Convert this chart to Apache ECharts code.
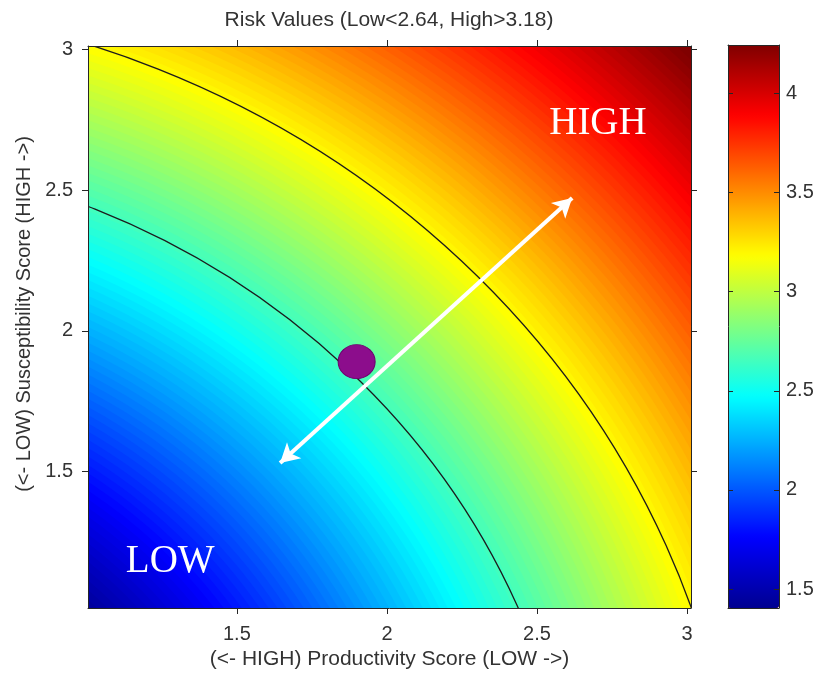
<!DOCTYPE html>
<html><head><meta charset="utf-8">
<script src="https://cdn.jsdelivr.net/npm/echarts@6/dist/echarts.min.js"></script>
<style>html,body{margin:0;padding:0;background:#fff}#c{width:818px;height:678px}</style>
</head><body><div id="c"></div>
<script>
const titleText = 'Risk Values (Low<2.64, High>3.18)';
const xName = '(<- HIGH) Productivity Score (LOW ->)';
const yName = '(<- LOW) Susceptibility Score (HIGH ->)';
const xRange = [1.004, 3.013];
const yRange = [1.016, 3.012];
const axisTicks = [1.5, 2, 2.5, 3];
const colorRange = [1.405, 4.243];
const colorTicks = [1.5, 2, 2.5, 3, 3.5, 4];
// centre of the concentric risk bands (read from the arcs)
const riskOrigin = [0, 0];
// filled risk bands (contourf levels)
const riskLevels = [1.425,1.450,1.475,1.500,1.525,1.550,1.575,1.600,1.625,1.650,1.675,1.700,1.725,1.750,1.775,1.800,1.825,1.850,1.875,1.900,1.925,1.950,1.975,2.000,2.025,2.050,2.075,2.100,2.125,2.150,2.175,2.200,2.225,2.250,2.275,2.300,2.325,2.350,2.375,2.400,2.425,2.450,2.475,2.500,2.525,2.550,2.575,2.600,2.625,2.650,2.675,2.700,2.725,2.750,2.775,2.800,2.825,2.850,2.875,2.900,2.925,2.950,2.975,3.000,3.025,3.050,3.075,3.100,3.125,3.150,3.175,3.200,3.225,3.250,3.275,3.300,3.325,3.350,3.375,3.400,3.425,3.450,3.475,3.500,3.525,3.550,3.575,3.600,3.625,3.650,3.675,3.700,3.725,3.750,3.775,3.800,3.825,3.850,3.875,3.900,3.925,3.950,3.975,4.000,4.025,4.050,4.075,4.100,4.125,4.150,4.175,4.200,4.225,4.250,4.275];
const contourLevels = [2.64, 3.18];
const markerPoint = [1.899, 1.891];
const arrowFrom = [1.644, 1.531];
const arrowTo = [2.617, 2.472];
const regionLabels = ['HIGH', 'LOW'];
const regionPositions = [[2.703, 2.735], [1.278, 1.179]];

const jet = ['#000090','#0000ff','#0080ff','#00ffff','#80ff80','#ffff00','#ff8000','#ff0000','#800000'];
const FONT = 'Liberation Sans';
const TXT = '#333';

const bandData = riskLevels.slice().reverse().map(v => [riskOrigin[0], riskOrigin[1], v]);
const contourData = contourLevels.map(v => [riskOrigin[0], riskOrigin[1], v]);

function ellipseOf(api) {
  const c = api.coord([api.value(0), api.value(1)]);
  const r = api.value(2);
  const s = api.size([r, r], [api.value(0), api.value(1)]);
  return {cx: c[0], cy: c[1], rx: s[0], ry: s[1]};
}

const chart = echarts.init(document.getElementById('c'), null, {renderer: 'canvas'});
const lineCol = '#262626';
const mainAxisCommon = {
  type: 'value', gridIndex: 0, z: 10,
  splitLine: {show: false},
  axisLine: {show: true, onZero: false, lineStyle: {color: lineCol, width: 1}},
  axisTick: {show: true, inside: false, length: 6, customValues: axisTicks, lineStyle: {color: lineCol}},
};
chart.setOption({
  animation: false,
  backgroundColor: '#fff',
  textStyle: {fontFamily: FONT},
  title: {
    text: titleText, left: 389, top: 10, padding: 0, textAlign: 'center',
    textStyle: {fontFamily: FONT, fontSize: 21, fontWeight: 'normal', color: TXT}
  },
  grid: [
    {left: 88, top: 46, width: 603, height: 562, show: false},
    {left: 728, top: 45, width: 51, height: 563, show: false}
  ],
  xAxis: [
    Object.assign({}, mainAxisCommon, {
      position: 'bottom', min: xRange[0], max: xRange[1],
      axisLabel: {show: true, customValues: axisTicks, margin: 16, fontSize: 20, color: TXT, fontFamily: FONT},
      name: xName, nameLocation: 'middle', nameGap: 40,
      nameTextStyle: {fontSize: 21, color: TXT, fontFamily: FONT}
    }),
    Object.assign({}, mainAxisCommon, {
      position: 'top', min: xRange[0], max: xRange[1], axisLabel: {show: false}
    }),
    {type: 'value', gridIndex: 1, position: 'bottom', min: 0, max: 1, z: 10,
     axisLine: {show: true, onZero: false, lineStyle: {color: lineCol}}, axisTick: {show: false},
     axisLabel: {show: false}, splitLine: {show: false}},
    {type: 'value', gridIndex: 1, position: 'top', min: 0, max: 1, z: 10,
     axisLine: {show: true, onZero: false, lineStyle: {color: lineCol}}, axisTick: {show: false},
     axisLabel: {show: false}, splitLine: {show: false}}
  ],
  yAxis: [
    Object.assign({}, mainAxisCommon, {
      position: 'left', min: yRange[0], max: yRange[1],
      axisLabel: {show: true, customValues: axisTicks, margin: 15, fontSize: 20, color: TXT, fontFamily: FONT},
      name: yName, nameLocation: 'middle', nameGap: 50, nameRotate: 90,
      nameTextStyle: {fontSize: 20, color: TXT, fontFamily: FONT, padding: [0, 0, 0, 26]}
    }),
    Object.assign({}, mainAxisCommon, {
      position: 'right', min: yRange[0], max: yRange[1], axisLabel: {show: false}
    }),
    {type: 'value', gridIndex: 1, position: 'left', min: colorRange[0], max: colorRange[1], z: 10,
     axisLine: {show: true, onZero: false, lineStyle: {color: lineCol}},
     axisTick: {show: true, inside: true, length: 5, customValues: colorTicks, lineStyle: {color: lineCol}},
     axisLabel: {show: false}, splitLine: {show: false}},
    {type: 'value', gridIndex: 1, position: 'right', min: colorRange[0], max: colorRange[1], z: 10,
     axisLine: {show: true, onZero: false, lineStyle: {color: lineCol}},
     axisTick: {show: true, inside: true, length: 5, customValues: colorTicks, lineStyle: {color: lineCol}},
     axisLabel: {show: true, customValues: colorTicks, margin: 7, fontSize: 20, color: TXT, fontFamily: FONT},
     splitLine: {show: false}}
  ],
  visualMap: {
    type: 'continuous', seriesIndex: 0, dimension: 2,
    min: colorRange[0], max: colorRange[1],
    inRange: {color: jet}, outOfRange: {color: ['#800000']},
    calculable: false, hoverLink: false, realtime: false,
    orient: 'vertical', left: 728, top: 45, itemWidth: 51, itemHeight: 563, padding: 0,
    z: 4
  },
  series: [
    {
      type: 'custom', name: 'risk', xAxisIndex: 0, yAxisIndex: 0, clip: true, silent: true, z: 1,
      dimensions: ['p', 's', 'risk'], encode: {x: 0, y: 1},
      data: bandData,
      renderItem: function (params, api) {
        return {type: 'ellipse', shape: ellipseOf(api), style: {fill: api.visual('color'), stroke: null}};
      }
    },
    {
      type: 'custom', name: 'contours', xAxisIndex: 0, yAxisIndex: 0, clip: true, silent: true, z: 2,
      dimensions: ['p', 's', 'risk'], encode: {x: 0, y: 1},
      data: contourData,
      renderItem: function (params, api) {
        return {type: 'ellipse', shape: ellipseOf(api), style: {fill: null, stroke: '#1c1c1c', lineWidth: 1.3}};
      }
    },
    {
      type: 'scatter', name: 'species', xAxisIndex: 0, yAxisIndex: 0, z: 3, silent: true,
      symbol: 'circle', symbolSize: [37, 34],
      itemStyle: {color: '#8c0d8c', borderColor: '#6e006e', borderWidth: 1, opacity: 1},
      data: [markerPoint]
    },
    {
      type: 'scatter', name: 'arrow', xAxisIndex: 0, yAxisIndex: 0, z: 4, silent: true,
      data: [],
      markLine: {
        silent: true, animation: false,
        symbol: ['arrow', 'arrow'], symbolSize: [16, 19],
        lineStyle: {color: '#ffffff', width: 4, type: 'solid', opacity: 1},
        label: {show: false},
        emphasis: {disabled: true},
        data: [[{coord: arrowFrom}, {coord: arrowTo}]]
      }
    },
    {
      type: 'scatter', name: 'regions', xAxisIndex: 0, yAxisIndex: 0, z: 5, silent: true,
      symbol: 'circle', symbolSize: 1, itemStyle: {color: 'rgba(0,0,0,0)', opacity: 1},
      labelLayout: {hideOverlap: false},
      label: {show: true, position: 'inside', formatter: '{b}', color: '#ffffff',
              fontFamily: 'Liberation Serif', fontSize: 39},
      data: regionLabels.map((n, i) => ({name: n, value: regionPositions[i]}))
    }
  ]
});
</script></body></html>
